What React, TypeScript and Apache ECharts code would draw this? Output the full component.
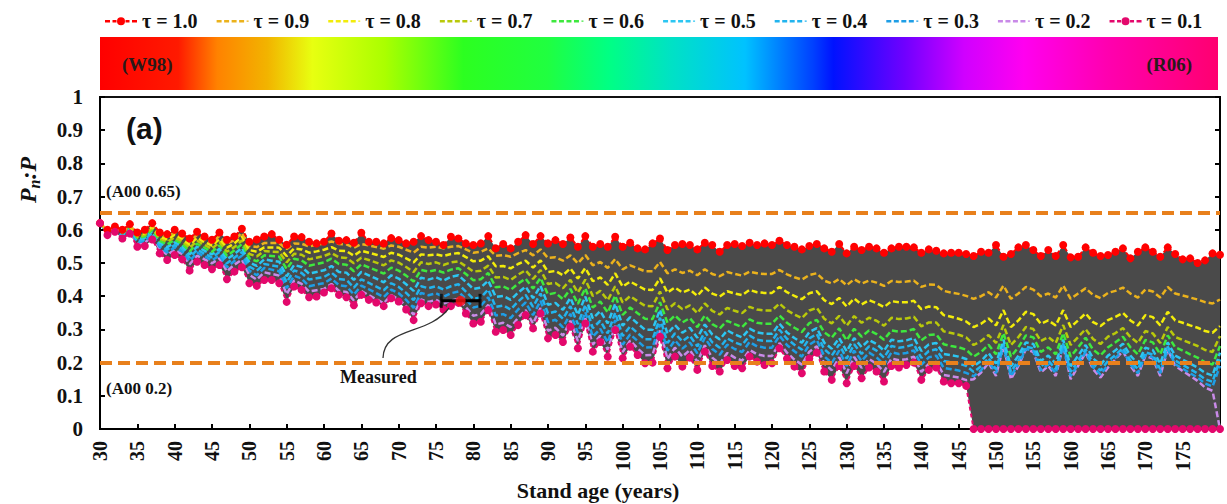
import React, { useEffect, useRef } from 'react';
import * as echarts from 'echarts';

const START_AGE = 30;

// tau = 1.0 (upper bound, W98)
const tau10 = [
  0.62, 0.60, 0.61, 0.60, 0.617, 0.592, 0.60, 0.62, 0.592, 0.587,
  0.60, 0.589, 0.574, 0.594, 0.58, 0.57, 0.592, 0.57, 0.58, 0.603,
  0.564, 0.571, 0.58, 0.587, 0.57, 0.555, 0.58, 0.578, 0.564, 0.559,
  0.564, 0.589, 0.567, 0.569, 0.561, 0.591, 0.564, 0.564, 0.559, 0.575,
  0.569, 0.559, 0.564, 0.581, 0.569, 0.564, 0.554, 0.579, 0.574, 0.559,
  0.554, 0.559, 0.581, 0.544, 0.557, 0.544, 0.564, 0.584, 0.557, 0.581,
  0.559, 0.569, 0.557, 0.577, 0.549, 0.581, 0.549, 0.557, 0.549, 0.579,
  0.549, 0.561, 0.544, 0.541, 0.559, 0.574, 0.539, 0.554, 0.557, 0.554,
  0.541, 0.561, 0.554, 0.534, 0.554, 0.557, 0.551, 0.561, 0.554, 0.559,
  0.554, 0.567, 0.554, 0.549, 0.541, 0.551, 0.557, 0.544, 0.534, 0.557,
  0.529, 0.549, 0.539, 0.549, 0.544, 0.531, 0.544, 0.549, 0.549, 0.547,
  0.531, 0.541, 0.537, 0.529, 0.531, 0.531, 0.527, 0.521, 0.534, 0.531,
  0.554, 0.519, 0.527, 0.547, 0.554, 0.539, 0.521, 0.539, 0.521, 0.554,
  0.517, 0.519, 0.547, 0.531, 0.521, 0.524, 0.534, 0.544, 0.514, 0.534,
  0.547, 0.534, 0.519, 0.547, 0.527, 0.511, 0.514, 0.50, 0.508, 0.529,
  0.525,
];

const tau09 = [
  0.62, 0.598, 0.608, 0.597, 0.614, 0.588, 0.595, 0.615, 0.586, 0.579,
  0.592, 0.581, 0.564, 0.585, 0.571, 0.561, 0.582, 0.558, 0.569, 0.591,
  0.552, 0.548, 0.56, 0.56, 0.56, 0.542, 0.559, 0.558, 0.55, 0.555,
  0.559, 0.565, 0.557, 0.556, 0.546, 0.557, 0.553, 0.548, 0.543, 0.553,
  0.549, 0.54, 0.531, 0.549, 0.546, 0.549, 0.544, 0.549, 0.551, 0.541,
  0.531, 0.534, 0.544, 0.522, 0.524, 0.519, 0.53, 0.539, 0.523, 0.541,
  0.515, 0.517, 0.507, 0.523, 0.499, 0.524, 0.493, 0.503, 0.485, 0.512,
  0.481, 0.493, 0.484, 0.475, 0.475, 0.503, 0.469, 0.481, 0.47, 0.477,
  0.463, 0.481, 0.467, 0.46, 0.473, 0.467, 0.462, 0.474, 0.469, 0.467,
  0.467, 0.479, 0.466, 0.457, 0.45, 0.464, 0.469, 0.447, 0.438, 0.452,
  0.433, 0.451, 0.438, 0.447, 0.441, 0.431, 0.446, 0.443, 0.444, 0.447,
  0.428, 0.435, 0.434, 0.416, 0.411, 0.407, 0.401, 0.392, 0.40, 0.412,
  0.396, 0.432, 0.392, 0.408, 0.428, 0.42, 0.40, 0.408, 0.396, 0.432,
  0.392, 0.408, 0.424, 0.404, 0.394, 0.41, 0.416, 0.426, 0.408, 0.396,
  0.42, 0.414, 0.396, 0.428, 0.408, 0.402, 0.396, 0.39, 0.382, 0.378,
  0.39,
];

const tau08 = [
  0.62, 0.597, 0.607, 0.595, 0.611, 0.583, 0.59, 0.61, 0.579, 0.571,
  0.585, 0.573, 0.555, 0.576, 0.563, 0.552, 0.572, 0.546, 0.559, 0.58,
  0.539, 0.534, 0.547, 0.547, 0.546, 0.521, 0.544, 0.541, 0.531, 0.535,
  0.54, 0.548, 0.537, 0.536, 0.522, 0.537, 0.531, 0.525, 0.518, 0.531,
  0.525, 0.514, 0.502, 0.526, 0.523, 0.526, 0.521, 0.527, 0.53, 0.518,
  0.505, 0.507, 0.52, 0.49, 0.491, 0.484, 0.497, 0.507, 0.486, 0.508,
  0.473, 0.476, 0.463, 0.484, 0.453, 0.485, 0.445, 0.457, 0.434, 0.469,
  0.429, 0.444, 0.432, 0.42, 0.419, 0.454, 0.411, 0.426, 0.411, 0.42,
  0.401, 0.426, 0.408, 0.399, 0.415, 0.408, 0.403, 0.419, 0.412, 0.41,
  0.41, 0.428, 0.412, 0.401, 0.391, 0.409, 0.415, 0.388, 0.376, 0.395,
  0.369, 0.393, 0.375, 0.388, 0.379, 0.367, 0.385, 0.382, 0.382, 0.386,
  0.361, 0.369, 0.367, 0.343, 0.338, 0.332, 0.324, 0.307, 0.317, 0.333,
  0.312, 0.358, 0.307, 0.327, 0.353, 0.346, 0.317, 0.327, 0.312, 0.358,
  0.307, 0.327, 0.348, 0.322, 0.31, 0.328, 0.338, 0.35, 0.327, 0.312,
  0.343, 0.337, 0.312, 0.353, 0.327, 0.32, 0.312, 0.305, 0.295, 0.29,
  0.31,
];

const tau07 = [
  0.62, 0.595, 0.605, 0.592, 0.609, 0.579, 0.585, 0.605, 0.573, 0.564,
  0.577, 0.566, 0.545, 0.567, 0.554, 0.543, 0.563, 0.534, 0.548, 0.568,
  0.527, 0.52, 0.536, 0.534, 0.533, 0.502, 0.528, 0.525, 0.511, 0.516,
  0.521, 0.53, 0.517, 0.515, 0.499, 0.516, 0.509, 0.501, 0.493, 0.508,
  0.501, 0.488, 0.473, 0.502, 0.497, 0.502, 0.494, 0.502, 0.505, 0.49,
  0.474, 0.477, 0.492, 0.456, 0.458, 0.449, 0.465, 0.478, 0.452, 0.479,
  0.437, 0.44, 0.424, 0.449, 0.411, 0.45, 0.401, 0.416, 0.388, 0.43,
  0.381, 0.40, 0.385, 0.371, 0.37, 0.414, 0.36, 0.379, 0.361, 0.372,
  0.349, 0.378, 0.356, 0.345, 0.365, 0.356, 0.349, 0.368, 0.36, 0.357,
  0.357, 0.378, 0.358, 0.345, 0.334, 0.357, 0.365, 0.332, 0.318, 0.341,
  0.311, 0.34, 0.32, 0.335, 0.326, 0.311, 0.335, 0.331, 0.333, 0.338,
  0.309, 0.321, 0.321, 0.294, 0.289, 0.284, 0.276, 0.253, 0.265, 0.283,
  0.259, 0.313, 0.253, 0.277, 0.307, 0.301, 0.265, 0.277, 0.259, 0.313,
  0.253, 0.277, 0.301, 0.271, 0.256, 0.278, 0.289, 0.304, 0.277, 0.259,
  0.295, 0.288, 0.259, 0.307, 0.277, 0.268, 0.259, 0.25, 0.238, 0.232,
  0.28,
];

const tau06 = [
  0.62, 0.594, 0.604, 0.59, 0.606, 0.575, 0.58, 0.60, 0.567, 0.556,
  0.57, 0.558, 0.535, 0.558, 0.546, 0.534, 0.553, 0.522, 0.538, 0.557,
  0.514, 0.505, 0.523, 0.521, 0.519, 0.482, 0.513, 0.508, 0.492, 0.497,
  0.502, 0.513, 0.497, 0.495, 0.475, 0.496, 0.487, 0.478, 0.468, 0.486,
  0.477, 0.462, 0.444, 0.479, 0.474, 0.479, 0.471, 0.48, 0.484, 0.467,
  0.448, 0.451, 0.47, 0.427, 0.429, 0.419, 0.438, 0.453, 0.423, 0.455,
  0.405, 0.41, 0.391, 0.422, 0.377, 0.424, 0.366, 0.384, 0.351, 0.402,
  0.344, 0.366, 0.349, 0.332, 0.331, 0.382, 0.32, 0.342, 0.321, 0.334,
  0.307, 0.342, 0.316, 0.303, 0.326, 0.316, 0.307, 0.33, 0.32, 0.317,
  0.317, 0.342, 0.32, 0.305, 0.292, 0.319, 0.329, 0.291, 0.275, 0.303,
  0.267, 0.302, 0.278, 0.297, 0.286, 0.269, 0.297, 0.293, 0.295, 0.301,
  0.267, 0.283, 0.285, 0.255, 0.25, 0.246, 0.239, 0.218, 0.232, 0.254,
  0.225, 0.289, 0.218, 0.246, 0.282, 0.276, 0.232, 0.246, 0.225, 0.289,
  0.218, 0.246, 0.275, 0.239, 0.222, 0.246, 0.261, 0.278, 0.246, 0.225,
  0.268, 0.261, 0.225, 0.282, 0.246, 0.236, 0.225, 0.215, 0.201, 0.194,
  0.25,
];

const tau05 = [
  0.62, 0.592, 0.602, 0.587, 0.603, 0.571, 0.576, 0.596, 0.561, 0.548,
  0.562, 0.55, 0.526, 0.549, 0.537, 0.526, 0.543, 0.511, 0.527, 0.545,
  0.502, 0.491, 0.511, 0.507, 0.504, 0.46, 0.494, 0.488, 0.468, 0.473,
  0.478, 0.491, 0.473, 0.471, 0.449, 0.473, 0.463, 0.453, 0.442, 0.463,
  0.453, 0.436, 0.416, 0.456, 0.45, 0.457, 0.447, 0.458, 0.463, 0.443,
  0.422, 0.426, 0.447, 0.398, 0.401, 0.389, 0.411, 0.429, 0.394, 0.431,
  0.374, 0.38, 0.359, 0.395, 0.344, 0.399, 0.333, 0.355, 0.318, 0.377,
  0.311, 0.337, 0.318, 0.299, 0.299, 0.359, 0.287, 0.313, 0.29, 0.305,
  0.275, 0.315, 0.285, 0.27, 0.297, 0.285, 0.276, 0.302, 0.291, 0.287,
  0.287, 0.317, 0.291, 0.274, 0.26, 0.292, 0.304, 0.26, 0.242, 0.274,
  0.234, 0.274, 0.247, 0.268, 0.256, 0.236, 0.269, 0.264, 0.267, 0.274,
  0.235, 0.255, 0.259, 0.226, 0.222, 0.218, 0.211, 0.189, 0.205, 0.229,
  0.197, 0.269, 0.189, 0.221, 0.261, 0.256, 0.205, 0.221, 0.197, 0.269,
  0.189, 0.221, 0.253, 0.213, 0.193, 0.221, 0.237, 0.257, 0.221, 0.197,
  0.245, 0.238, 0.197, 0.261, 0.221, 0.209, 0.197, 0.185, 0.169, 0.161,
  0.23,
];

const tau04 = [
  0.62, 0.59, 0.60, 0.584, 0.60, 0.566, 0.571, 0.591, 0.554, 0.54,
  0.554, 0.542, 0.516, 0.54, 0.528, 0.517, 0.533, 0.499, 0.516, 0.533,
  0.489, 0.477, 0.497, 0.493, 0.489, 0.442, 0.478, 0.47, 0.45, 0.454,
  0.458, 0.471, 0.452, 0.449, 0.426, 0.451, 0.44, 0.429, 0.418, 0.439,
  0.428, 0.41, 0.388, 0.43, 0.424, 0.43, 0.42, 0.43, 0.436, 0.414,
  0.392, 0.396, 0.42, 0.368, 0.372, 0.36, 0.384, 0.404, 0.368, 0.408,
  0.348, 0.354, 0.332, 0.37, 0.316, 0.374, 0.304, 0.326, 0.288, 0.35,
  0.28, 0.309, 0.289, 0.27, 0.27, 0.335, 0.259, 0.288, 0.264, 0.281,
  0.249, 0.293, 0.261, 0.245, 0.273, 0.261, 0.253, 0.281, 0.269, 0.265,
  0.265, 0.299, 0.272, 0.254, 0.239, 0.273, 0.286, 0.24, 0.221, 0.255,
  0.212, 0.255, 0.226, 0.249, 0.236, 0.215, 0.25, 0.245, 0.248, 0.255,
  0.214, 0.235, 0.24, 0.205, 0.201, 0.197, 0.19, 0.172, 0.189, 0.214,
  0.18, 0.257, 0.172, 0.206, 0.248, 0.243, 0.189, 0.206, 0.18, 0.257,
  0.172, 0.206, 0.24, 0.197, 0.176, 0.205, 0.223, 0.244, 0.206, 0.18,
  0.231, 0.224, 0.18, 0.248, 0.206, 0.193, 0.18, 0.167, 0.15, 0.142,
  0.21,
];

const tau03 = [
  0.62, 0.589, 0.599, 0.582, 0.597, 0.562, 0.566, 0.586, 0.548, 0.532,
  0.547, 0.534, 0.506, 0.531, 0.52, 0.508, 0.523, 0.487, 0.506, 0.522,
  0.477, 0.463, 0.485, 0.48, 0.475, 0.424, 0.462, 0.453, 0.43, 0.435,
  0.439, 0.453, 0.433, 0.43, 0.405, 0.432, 0.421, 0.409, 0.397, 0.42,
  0.409, 0.389, 0.365, 0.41, 0.403, 0.409, 0.398, 0.409, 0.414, 0.391,
  0.366, 0.371, 0.397, 0.342, 0.346, 0.334, 0.36, 0.381, 0.343, 0.386,
  0.322, 0.329, 0.306, 0.347, 0.29, 0.352, 0.278, 0.302, 0.261, 0.328,
  0.254, 0.285, 0.265, 0.245, 0.246, 0.315, 0.236, 0.267, 0.242, 0.261,
  0.228, 0.275, 0.241, 0.224, 0.254, 0.241, 0.232, 0.262, 0.249, 0.245,
  0.245, 0.281, 0.253, 0.234, 0.218, 0.254, 0.268, 0.219, 0.199, 0.236,
  0.19, 0.236, 0.205, 0.23, 0.216, 0.194, 0.231, 0.226, 0.229, 0.237,
  0.193, 0.216, 0.221, 0.184, 0.18, 0.176, 0.169, 0.159, 0.177, 0.205,
  0.168, 0.25, 0.159, 0.195, 0.241, 0.236, 0.177, 0.195, 0.168, 0.25,
  0.159, 0.195, 0.232, 0.186, 0.164, 0.193, 0.214, 0.236, 0.195, 0.168,
  0.223, 0.216, 0.168, 0.241, 0.195, 0.182, 0.168, 0.155, 0.137, 0.128,
  0.19,
];

const tau02 = [
  0.62, 0.587, 0.597, 0.579, 0.595, 0.558, 0.561, 0.581, 0.542, 0.525,
  0.539, 0.527, 0.496, 0.522, 0.511, 0.499, 0.514, 0.475, 0.495, 0.51,
  0.464, 0.45, 0.472, 0.467, 0.462, 0.406, 0.447, 0.437, 0.414, 0.418,
  0.422, 0.437, 0.416, 0.413, 0.387, 0.416, 0.403, 0.391, 0.379, 0.403,
  0.391, 0.37, 0.344, 0.39, 0.383, 0.389, 0.377, 0.387, 0.392, 0.367,
  0.341, 0.346, 0.374, 0.315, 0.32, 0.307, 0.335, 0.358, 0.318, 0.364,
  0.296, 0.305, 0.281, 0.326, 0.265, 0.333, 0.254, 0.281, 0.239, 0.311,
  0.232, 0.266, 0.243, 0.222, 0.223, 0.297, 0.211, 0.245, 0.218, 0.238,
  0.202, 0.252, 0.215, 0.197, 0.229, 0.215, 0.206, 0.238, 0.225, 0.22,
  0.22, 0.259, 0.23, 0.209, 0.194, 0.233, 0.249, 0.197, 0.177, 0.216,
  0.168, 0.217, 0.184, 0.211, 0.196, 0.172, 0.212, 0.207, 0.21, 0.218,
  0.172, 0.196, 0.202, 0.163, 0.159, 0.155, 0.147, 0.15, 0.17, 0.20,
  0.16, 0.25, 0.15, 0.19, 0.24, 0.232, 0.17, 0.19, 0.16, 0.25,
  0.15, 0.19, 0.23, 0.18, 0.155, 0.185, 0.21, 0.235, 0.19, 0.16,
  0.22, 0.212, 0.16, 0.24, 0.19, 0.175, 0.16, 0.145, 0.125, 0.115,
  0,
];

// tau = 0.1 (lower bound, R06)
const tau01 = [
  0.62, 0.584, 0.594, 0.574, 0.589, 0.549, 0.551, 0.571, 0.529, 0.509,
  0.524, 0.511, 0.477, 0.504, 0.494, 0.481, 0.494, 0.451, 0.474, 0.487,
  0.439, 0.431, 0.449, 0.449, 0.439, 0.383, 0.429, 0.419, 0.397, 0.399,
  0.411, 0.424, 0.404, 0.397, 0.373, 0.404, 0.389, 0.381, 0.370, 0.394,
  0.384, 0.36, 0.328, 0.379, 0.37, 0.375, 0.36, 0.37, 0.38, 0.348,
  0.318, 0.323, 0.358, 0.293, 0.298, 0.283, 0.313, 0.343, 0.303, 0.348,
  0.273, 0.283, 0.262, 0.308, 0.243, 0.318, 0.233, 0.262, 0.218, 0.298,
  0.213, 0.248, 0.223, 0.198, 0.20, 0.278, 0.183, 0.218, 0.188, 0.215,
  0.178, 0.233, 0.19, 0.173, 0.208, 0.19, 0.183, 0.218, 0.203, 0.193,
  0.198, 0.243, 0.212, 0.188, 0.168, 0.212, 0.23, 0.173, 0.148, 0.19,
  0.138, 0.19, 0.153, 0.185, 0.173, 0.143, 0.19, 0.185, 0.193, 0.20,
  0.148, 0.178, 0.185, 0.143, 0.138, 0.138, 0.13, 0, 0, 0,
  0, 0, 0, 0, 0, 0, 0, 0, 0, 0,
  0, 0, 0, 0, 0, 0, 0, 0, 0, 0,
  0, 0, 0, 0, 0, 0, 0, 0, 0, 0,
  0,
];

const seriesNames = ['τ = 1.0', 'τ = 0.9', 'τ = 0.8', 'τ = 0.7', 'τ = 0.6', 'τ = 0.5', 'τ = 0.4', 'τ = 0.3', 'τ = 0.2', 'τ = 0.1'];
const seriesValues = [tau10, tau09, tau08, tau07, tau06, tau05, tau04, tau03, tau02, tau01];
const seriesColors = ['#ff0000', '#ebb21c', '#f2ec0a', '#b9c90a', '#3ee83e', '#2cc6f2', '#22b4ee', '#1e9ee6', '#c98ae8', '#e3086c'];

const refValues = [0.65, 0.2];
const measuredAge = 78.3;
const measuredAgeRange = [75.7, 80.9];
const measuredValue = 0.386;

const SERIF = "'Liberation Serif', 'DejaVu Serif', serif";

// legend icons (32 x 12 box): dashed line, and dashed line with a dot
const DASH_ICON =
  'path://M0,0h0.01v0.01h-0.01z M0,5h5v2.4h-5z M7.5,5h5v2.4h-5z M15,5h5v2.4h-5z M22.5,5h5v2.4h-5z M30,5.6h2v1.2h-2z M32,12h-0.01v-0.01h0.01z';
const DOT_ICON =
  'path://M0,0h0.01v0.01h-0.01z M0,5h5v2.4h-5z M7.5,5h4v2.4h-4z M20.5,5h4v2.4h-4z M27,5h5v2.4h-5z M20,6.2a4,4 0 1,0 -8,0a4,4 0 1,0 8,0z M32,12h-0.01v-0.01h0.01z';

function toPairs(arr: number[]) {
  return arr.map((v, i) => [START_AGE + i, v]);
}

export default function App() {
  const ref = useRef<HTMLDivElement | null>(null);

  useEffect(() => {
    if (!ref.current) return;
    const chart = echarts.init(ref.current, undefined, { renderer: 'svg' });

    const series: any[] = [];
    // gray band between tau=1.0 and tau=0.1
    series.push({
      name: 'band', type: 'custom', data: [0], z: 1, silent: true, clip: true,
      renderItem: (params: any, api: any) => {
        if (params.dataIndex !== 0) return null;
        const upper = tau10.map((v, i) => api.coord([START_AGE + i, v]));
        const lower = tau01.map((v, i) => api.coord([START_AGE + i, v])).reverse();
        return {
          type: 'polygon',
          shape: { points: upper.concat(lower) },
          style: { fill: '#4a4a4a', stroke: 'none' },
        };
      },
    });

    // intermediate tau lines (draw lower tau first)
    for (let k = 8; k >= 1; k--) {
      series.push({
        name: seriesNames[k], type: 'line', data: toPairs(seriesValues[k]), symbol: 'none',
        lineStyle: { color: seriesColors[k], width: 2.5, type: [6, 3] },
        itemStyle: { color: seriesColors[k] }, z: 2,
      });
    }

    // reference lines
    series.push({
      name: 'refs', type: 'line', data: [], z: 3, silent: true,
      markLine: {
        silent: true, symbol: 'none', label: { show: false },
        lineStyle: { color: '#e8801c', width: 4, type: [12, 6] },
        data: refValues.map((v) => ({ yAxis: v })),
      },
    });

    // bounds with markers
    [0, 9].forEach((k) => {
      series.push({
        name: seriesNames[k], type: 'line', data: toPairs(seriesValues[k]),
        symbol: 'circle', symbolSize: 8, showSymbol: true,
        lineStyle: { color: seriesColors[k], width: 2, type: [4, 3] },
        itemStyle: { color: seriesColors[k] }, z: 4,
      });
    });

    // measured with error bar
    series.push({
      name: 'measErr', type: 'line', data: measuredAgeRange.map((a) => [a, measuredValue]),
      symbol: 'none', lineStyle: { color: '#000', width: 3 }, z: 5, silent: true,
    });
    series.push({
      name: 'measCaps', type: 'scatter', data: measuredAgeRange.map((a) => [a, measuredValue]),
      symbol: 'rect', symbolSize: [3, 14], itemStyle: { color: '#000' }, z: 5, silent: true,
    });
    series.push({
      name: 'measured', type: 'scatter', data: [[measuredAge, measuredValue]],
      symbol: 'circle', symbolSize: 10, itemStyle: { color: '#ff1010' }, z: 6, silent: true,
    });

    const axisTextStyle = { fontFamily: SERIF, fontWeight: 'bold' as const, fontSize: 20, color: '#111' };

    const gradientStops = [
      { offset: 0, color: '#ff0000' },
      { offset: 0.07, color: '#ff1a00' },
      { offset: 0.105, color: '#ff8200' },
      { offset: 0.15, color: '#f2b400' },
      { offset: 0.19, color: '#e8ff10' },
      { offset: 0.255, color: '#aaff00' },
      { offset: 0.325, color: '#2cff20' },
      { offset: 0.40, color: '#20ff40' },
      { offset: 0.455, color: '#00ff84' },
      { offset: 0.51, color: '#00e2c4' },
      { offset: 0.577, color: '#00c2ff' },
      { offset: 0.638, color: '#0040ff' },
      { offset: 0.656, color: '#0012ff' },
      { offset: 0.72, color: '#7000ff' },
      { offset: 0.773, color: '#d000ff' },
      { offset: 0.826, color: '#ff00f0' },
      { offset: 0.9, color: '#ff00b0' },
      { offset: 1, color: '#ff0070' },
    ];

    const option: any = {
      animation: false,
      backgroundColor: '#ffffff',
      legend: {
        data: seriesNames.map((n, i) => ({ name: n, icon: i === 0 || i === 9 ? DOT_ICON : DASH_ICON })),
        left: 100, top: 6,
        itemWidth: 32, itemHeight: 12, itemGap: 19,
        textStyle: { fontFamily: SERIF, fontWeight: 'bold', fontSize: 20, color: '#111' },
        selectedMode: false,
      },
      grid: {
        left: 100, right: 7, top: 97, bottom: 75,
        show: true, borderColor: '#111', borderWidth: 2, backgroundColor: 'transparent',
      },
      xAxis: {
        type: 'value', min: 30, max: 180, interval: 5,
        axisLine: { show: true, lineStyle: { color: '#000', width: 2 } },
        axisTick: { show: true, inside: true, length: 5, lineStyle: { color: '#000', width: 2 } },
        splitLine: { show: false },
        axisLabel: {
          ...axisTextStyle, rotate: 90, margin: 12,
          formatter: (v: number) => (v >= 180 ? '' : String(v)),
        },
      },
      yAxis: [
        {
          type: 'value', min: 0, max: 1, interval: 0.1,
          axisLine: { show: true, lineStyle: { color: '#000', width: 2 } },
          axisTick: { show: true, inside: true, length: 5, lineStyle: { color: '#000', width: 2 } },
          splitLine: { show: false },
          axisLabel: { ...axisTextStyle, fontSize: 21, margin: 17, formatter: (v: number) => String(parseFloat(v.toFixed(1))) },
        },
        {
          type: 'value', min: 0, max: 1, interval: 0.1, position: 'right',
          axisLine: { show: true, lineStyle: { color: '#000', width: 2 } },
          axisTick: { show: true, inside: true, length: 5, lineStyle: { color: '#000', width: 2 } },
          splitLine: { show: false },
          axisLabel: { show: false },
        },
      ],
      series,
      graphic: [
        {
          type: 'rect', shape: { x: 100, y: 37, width: 1118, height: 53 },
          style: { fill: new echarts.graphic.LinearGradient(0, 0, 1, 0, gradientStops) }, silent: true,
        },
        {
          type: 'text', x: 122, y: 64,
          style: { text: '(W98)', fontFamily: SERIF, fontWeight: 'bold', fontSize: 19, fill: '#2a1a1a', verticalAlign: 'middle' },
        },
        {
          type: 'text', x: 1192, y: 64,
          style: { text: '(R06)', fontFamily: SERIF, fontWeight: 'bold', fontSize: 19, fill: '#2a1a1a', align: 'right', verticalAlign: 'middle' },
        },
        {
          type: 'text', x: 126, y: 128,
          style: { text: '(a)', fontFamily: "'Liberation Sans', Arial, sans-serif", fontWeight: 'bold', fontSize: 30, fill: '#111', verticalAlign: 'middle' },
        },
        {
          type: 'text', x: 106, y: 191,
          style: { text: '(A00 0.65)', fontFamily: SERIF, fontWeight: 'bold', fontSize: 17, fill: '#111', verticalAlign: 'middle' },
        },
        {
          type: 'text', x: 106, y: 388,
          style: { text: '(A00 0.2)', fontFamily: SERIF, fontWeight: 'bold', fontSize: 17, fill: '#111', verticalAlign: 'middle' },
        },
        {
          type: 'text', x: 340, y: 377,
          style: { text: 'Measured', fontFamily: SERIF, fontWeight: 'bold', fontSize: 18, fill: '#111', verticalAlign: 'middle' },
        },
        {
          type: 'bezierCurve',
          shape: { x1: 383, y1: 358, cpx1: 384, cpy1: 326, cpx2: 428, cpy2: 336, x2: 449, y2: 308 },
          style: { stroke: '#333', lineWidth: 1.3, fill: null }, z: 10,
        },
        {
          type: 'text', x: 28, y: 180, rotation: Math.PI / 2,
          style: {
            text: '{p|P}{n|n}{p|:P}',
            align: 'center', verticalAlign: 'middle',
            rich: {
              p: { fontFamily: SERIF, fontWeight: 'bold', fontStyle: 'italic', fontSize: 24, fill: '#111', lineHeight: 28, verticalAlign: 'middle' },
              n: { fontFamily: SERIF, fontWeight: 'bold', fontStyle: 'italic', fontSize: 16, fill: '#111', lineHeight: 28, verticalAlign: 'bottom' },
            },
          },
        },
        {
          type: 'text', x: 598, y: 490,
          style: { text: 'Stand age (years)', fontFamily: SERIF, fontWeight: 'bold', fontSize: 22, fill: '#111', align: 'center', verticalAlign: 'middle' },
        },
      ],
    };

    chart.setOption(option);
    return () => chart.dispose();
  }, []);

  return (
    <div
      ref={ref}
      style={{ position: 'fixed', left: 0, top: 0, width: 1227, height: 504, background: '#fff' }}
    />
  );
}
